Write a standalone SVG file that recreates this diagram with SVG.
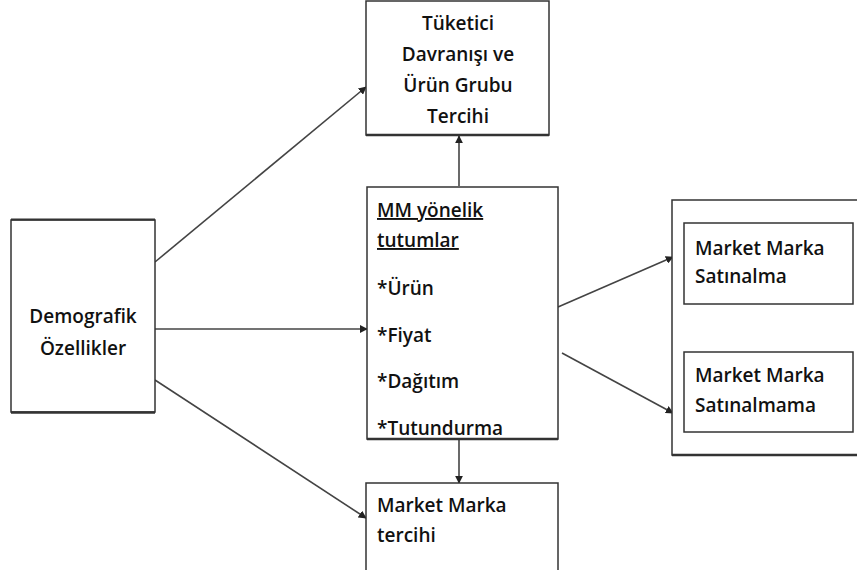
<svg xmlns="http://www.w3.org/2000/svg" width="857" height="570" viewBox="0 0 857 570">
<defs>
<marker id="ah" viewBox="0 0 10 10" refX="9" refY="5" markerWidth="8" markerHeight="8" orient="auto" markerUnits="userSpaceOnUse">
<path d="M0,0 L10,5 L0,10 z" fill="#222"/>
</marker>
<style>
.box{fill:#fff;stroke:#333;stroke-width:1.5}
.t{font-family:"Open Sans","Liberation Sans",sans-serif;font-size:19px;font-weight:600;fill:#111}
.c{text-anchor:middle}
.ln{stroke:#444;stroke-width:1.6;fill:none;marker-end:url(#ah)}
.u{text-decoration:underline}
</style>
</defs>
<rect width="857" height="570" fill="#fff"/>
<g id="connectors">
<line class="ln" x1="155" y1="262" x2="366" y2="87"/>
<line class="ln" x1="155" y1="329" x2="367" y2="329"/>
<line class="ln" x1="155" y1="380" x2="366" y2="518"/>
<line class="ln" x1="459" y1="186" x2="459" y2="136"/>
<line class="ln" x1="459" y1="440" x2="459" y2="483"/>
<line class="ln" x1="558" y1="307" x2="673" y2="257"/>
<line class="ln" x1="562" y1="353" x2="673" y2="413"/>
</g>
<g id="demografik">
<rect class="box" x="11" y="220" width="144" height="192"/>
<line x1="11" y1="412.5" x2="155" y2="412.5" stroke="#333" stroke-width="2.5"/>
<line x1="11" y1="219.5" x2="155" y2="219.5" stroke="#333" stroke-width="2"/>
<text class="t c" x="83" y="323">Demografik</text>
<text class="t c" x="83" y="355">Özellikler</text>
</g>
<g id="tuketici">
<rect class="box" x="366" y="1" width="183" height="134"/>
<line x1="366" y1="135" x2="549" y2="135" stroke="#333" stroke-width="2.5"/>
<text class="t c" x="458" y="30">Tüketici</text>
<text class="t c" x="458" y="61">Davranışı ve</text>
<text class="t c" x="458" y="92">Ürün Grubu</text>
<text class="t c" x="458" y="123">Tercihi</text>
</g>
<g id="mm">
<rect class="box" x="367" y="187" width="191" height="252"/>
<line x1="367" y1="439" x2="558" y2="439" stroke="#333" stroke-width="2.5"/>
<text class="t u" x="377" y="217">MM yönelik</text>
<text class="t u" x="377" y="247">tutumlar</text>
<text class="t" x="377" y="295">*Ürün</text>
<text class="t" x="377" y="342">*Fiyat</text>
<text class="t" x="377" y="388">*Dağıtım</text>
<text class="t" x="377" y="435">*Tutundurma</text>
</g>
<g id="tercihi">
<rect class="box" x="366" y="483" width="192" height="95"/>
<text class="t" x="377" y="512">Market Marka</text>
<text class="t" x="377" y="542">tercihi</text>
</g>
<g id="outer">
<rect class="box" x="672" y="200" width="200" height="255"/>
<line x1="672" y1="455" x2="857" y2="455" stroke="#333" stroke-width="2.5"/>
</g>
<g id="satinalma">
<rect class="box" x="684" y="223" width="169" height="81"/>
<text class="t" x="695" y="255">Market Marka</text>
<text class="t" x="695" y="283">Satınalma</text>
</g>
<g id="satinalmama">
<rect class="box" x="684" y="352" width="169" height="80"/>
<text class="t" x="695" y="382">Market Marka</text>
<text class="t" x="695" y="412">Satınalmama</text>
</g>
</svg>
